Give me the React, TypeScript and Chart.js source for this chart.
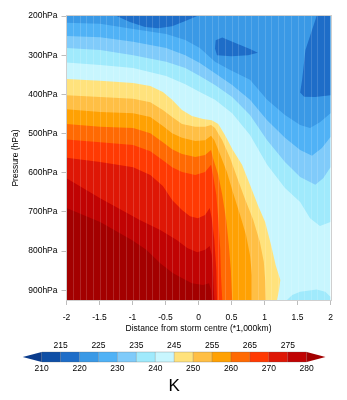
import { useEffect, useRef } from "react";
import { Chart, registerables } from "chart.js";

Chart.register(...registerables);

// ---- axes ----
const distanceTicks = [-2, -1.5, -1, -0.5, 0, 0.5, 1, 1.5, 2];
const pressureTicks = [200, 300, 400, 500, 600, 700, 800, 900];
const distanceRange = [-2, 2];
const pressureRange = [200, 925];

// ---- colour bar ----
const contourLevels = [210, 215, 220, 225, 230, 235, 240, 245, 250, 255, 260, 265, 270, 275, 280];
const bandColors = [
  "#0a3b8c", "#0f4fa6", "#1e6dc8", "#3a99e6", "#50b2f6", "#80cbfa", "#a0eafc", "#c8f6fe",
  "#ffe27c", "#ffbf45", "#ffa103", "#ff6a03", "#ff3a03", "#de1706", "#c00303", "#a30000",
];

// ---- isotherms: [distance (*1000 km), pressure (hPa)] ----
// cold side (colder air above the line)
const iso220Top: number[][] = [[-1.24, 200], [-1.04, 215], [-0.81, 228], [-0.61, 231], [-0.4, 226], [-0.2, 213], [-0.02, 200]];
const iso220Blob: number[][] = [[0.26, 262], [0.36, 255], [0.55, 268], [0.78, 284], [0.9, 294], [0.75, 300], [0.5, 303], [0.28, 300], [0.25, 283]];
const iso220Right: number[][] = [[1.79, 200], [1.72, 236], [1.62, 287], [1.57, 363], [1.54, 395], [1.6, 406], [1.77, 407], [2, 402]];
const iso225: number[][] = [[-2, 217], [-1.49, 220], [-0.99, 233], [-0.49, 246], [-0.2, 261], [0.02, 282], [0.25, 317], [0.48, 338], [0.78, 363], [1.04, 414], [1.31, 453], [1.54, 478], [1.69, 486], [1.84, 471], [2, 448]];
const iso230: number[][] = [[-2, 251], [-1.49, 254], [-0.99, 266], [-0.49, 282], [-0.2, 300], [0.02, 320], [0.25, 346], [0.51, 376], [0.78, 414], [1.04, 466], [1.31, 511], [1.54, 542], [1.72, 557], [1.87, 537], [2, 509]];
const iso235: number[][] = [[-2, 282], [-1.49, 287], [-0.99, 300], [-0.49, 317], [-0.2, 333], [0.02, 353], [0.25, 376], [0.51, 407], [0.78, 453], [1.04, 517], [1.31, 573], [1.54, 611], [1.77, 631], [1.89, 614], [2, 586]];
const iso240: number[][] = [[-2, 319], [-1.49, 325], [-0.99, 333], [-0.49, 353], [-0.2, 374], [0.02, 394], [0.25, 414], [0.51, 448], [0.78, 504], [1.04, 580], [1.31, 639], [1.54, 675], [1.69, 716], [1.84, 736], [2, 726]];
const iso240Surface: number[][] = [[1.34, 925], [1.42, 912], [1.54, 904], [1.79, 898], [1.92, 904], [2, 917], [2, 925]];
// warm side (warmer air below / left of the line)
const iso245: number[][] = [[-2, 361], [-1.49, 365], [-0.99, 371], [-0.73, 379], [-0.54, 394], [-0.4, 414], [-0.25, 440], [-0.1, 455], [0.07, 463], [0.2, 466], [0.3, 476], [0.4, 504], [0.52, 542], [0.66, 580], [0.78, 631], [0.9, 683], [1.01, 726], [1.1, 785], [1.17, 836], [1.24, 874], [1.22, 900], [1.19, 925]];
const iso250: number[][] = [[-2, 402], [-1.49, 407], [-0.99, 411], [-0.73, 420], [-0.54, 440], [-0.4, 458], [-0.25, 476], [-0.05, 483], [0.1, 483], [0.19, 478], [0.25, 486], [0.36, 517], [0.48, 563], [0.6, 619], [0.7, 665], [0.83, 721], [0.93, 777], [0.99, 828], [1.01, 874], [1.02, 925]];
const iso255: number[][] = [[-2, 438], [-1.49, 445], [-0.99, 448], [-0.73, 458], [-0.54, 481], [-0.4, 499], [-0.25, 511], [-0.05, 519], [0.1, 517], [0.19, 506], [0.24, 517], [0.33, 555], [0.43, 598], [0.52, 649], [0.63, 708], [0.72, 759], [0.78, 810], [0.81, 861], [0.81, 925]];
const iso260: number[][] = [[-2, 476], [-1.49, 483], [-0.99, 486], [-0.73, 499], [-0.54, 522], [-0.4, 540], [-0.25, 552], [-0.05, 560], [0.1, 555], [0.19, 542], [0.22, 563], [0.3, 606], [0.36, 657], [0.42, 721], [0.46, 785], [0.49, 849], [0.51, 925]];
const iso265: number[][] = [[-2, 515], [-1.49, 522], [-0.99, 529], [-0.73, 545], [-0.54, 568], [-0.4, 586], [-0.25, 598], [-0.05, 606], [0.1, 598], [0.19, 580], [0.22, 606], [0.27, 657], [0.3, 721], [0.33, 797], [0.34, 861], [0.36, 925]];
const iso270: number[][] = [[-2, 562], [-1.49, 573], [-0.99, 586], [-0.73, 606], [-0.54, 634], [-0.4, 670], [-0.25, 695], [-0.13, 711], [-0.01, 716], [0.1, 708], [0.17, 690], [0.2, 716], [0.24, 772], [0.27, 849], [0.28, 925]];
const iso275: number[][] = [[-2, 614], [-1.49, 665], [-0.89, 721], [-0.58, 746], [-0.33, 772], [-0.17, 792], [-0.02, 803], [0.1, 797], [0.17, 787], [0.2, 810], [0.22, 861], [0.24, 925]];
const iso280: number[][] = [[-2, 690], [-1.49, 726], [-1.01, 772], [-0.79, 797], [-0.58, 831], [-0.39, 856], [-0.28, 866], [-0.1, 882], [0.07, 887], [0.16, 882], [0.19, 900], [0.2, 925]];

type Region = { level: number; pts: number[][]; close: "bottomLeft" | "top" | "topRight" | "none" };

const warmRegions: Region[] = [
  { level: 245, pts: iso245, close: "bottomLeft" },
  { level: 250, pts: iso250, close: "bottomLeft" },
  { level: 255, pts: iso255, close: "bottomLeft" },
  { level: 260, pts: iso260, close: "bottomLeft" },
  { level: 265, pts: iso265, close: "bottomLeft" },
  { level: 270, pts: iso270, close: "bottomLeft" },
  { level: 275, pts: iso275, close: "bottomLeft" },
  { level: 280, pts: iso280, close: "bottomLeft" },
];
const coldRegions: Region[] = [
  { level: 240, pts: iso240, close: "top" },
  { level: 240, pts: iso240Surface, close: "none" },
  { level: 235, pts: iso235, close: "top" },
  { level: 230, pts: iso230, close: "top" },
  { level: 225, pts: iso225, close: "top" },
  { level: 220, pts: iso220Top, close: "none" },
  { level: 220, pts: iso220Blob, close: "none" },
  { level: 220, pts: iso220Right, close: "topRight" },
];

const FONT = "'Liberation Sans', Arial, Helvetica, sans-serif";

// colour of band [lo, lo+5)
const colorAbove = (lo: number) => bandColors[contourLevels.indexOf(lo) + 1];
// colour of band [hi-5, hi)
const colorBelow = (hi: number) => bandColors[contourLevels.indexOf(hi)];

export default function App() {
  const ref = useRef<HTMLCanvasElement>(null);

  useEffect(() => {
    document.body.style.margin = "0";
    const canvas = ref.current!;

    const fieldPlugin = {
      id: "field",
      beforeDatasetsDraw(chart: any) {
        const { ctx, chartArea: a, scales } = chart;
        const xs = scales.x;
        const ys = scales.y;
        const X = (v: number) => xs.getPixelForValue(v);
        const Y = (v: number) => ys.getPixelForValue(v);
        const [x0, x1] = distanceRange;
        const [p0, p1] = pressureRange;

        ctx.save();
        ctx.beginPath();
        ctx.rect(a.left, a.top, a.right - a.left, a.bottom - a.top);
        ctx.clip();

        ctx.fillStyle = colorAbove(240);
        ctx.fillRect(a.left, a.top, a.right - a.left, a.bottom - a.top);

        const fillRegion = (r: Region, color: string) => {
          const pts = r.pts.slice();
          if (r.close === "bottomLeft") pts.push([x0, p1]);
          if (r.close === "top") pts.push([x1, p0], [x0, p0]);
          if (r.close === "topRight") pts.push([x1, p0]);
          ctx.beginPath();
          pts.forEach(([d, p], i) => (i ? ctx.lineTo(X(d), Y(p)) : ctx.moveTo(X(d), Y(p))));
          ctx.closePath();
          ctx.fillStyle = color;
          ctx.fill();
        };
        warmRegions.forEach((r) => fillRegion(r, colorAbove(r.level)));
        coldRegions.forEach((r) => fillRegion(r, colorBelow(r.level)));

        // faint seams between data columns
        ctx.strokeStyle = "rgba(255,255,255,0.15)";
        ctx.lineWidth = 1;
        for (let i = 1; i < 40; i++) {
          const px = Math.round(X(x0 + i * 0.1)) + 0.5;
          ctx.beginPath();
          ctx.moveTo(px, a.top);
          ctx.lineTo(px, a.bottom);
          ctx.stroke();
        }
        ctx.restore();

        ctx.save();
        ctx.strokeStyle = "#cfcfcf";
        ctx.lineWidth = 1;
        ctx.strokeRect(Math.round(a.left) - 0.5, Math.round(a.top) - 0.5, Math.round(a.right - a.left) + 1, Math.round(a.bottom - a.top) + 1);
        ctx.restore();
      },
      afterDraw(chart: any) {
        const ctx = chart.ctx;
        const left = 41.7;
        const right = 306.7;
        const top = 352;
        const bottom = 362;
        const tipL = 22.7;
        const tipR = 325.5;
        const n = contourLevels.length - 1;
        const w = (right - left) / n;
        ctx.save();
        // arrows
        ctx.fillStyle = bandColors[0];
        ctx.beginPath();
        ctx.moveTo(left, top);
        ctx.lineTo(tipL, (top + bottom) / 2);
        ctx.lineTo(left, bottom);
        ctx.closePath();
        ctx.fill();
        ctx.fillStyle = bandColors[bandColors.length - 1];
        ctx.beginPath();
        ctx.moveTo(right, top);
        ctx.lineTo(tipR, (top + bottom) / 2);
        ctx.lineTo(right, bottom);
        ctx.closePath();
        ctx.fill();
        for (let i = 0; i < n; i++) {
          ctx.fillStyle = bandColors[i + 1];
          ctx.fillRect(left + i * w, top, w, bottom - top);
        }
        ctx.strokeStyle = "rgba(90,90,90,0.35)";
        ctx.lineWidth = 0.8;
        for (let i = 0; i <= n; i++) {
          ctx.beginPath();
          ctx.moveTo(left + i * w, top);
          ctx.lineTo(left + i * w, bottom);
          ctx.stroke();
        }
        ctx.beginPath();
        ctx.moveTo(left, top);
        ctx.lineTo(right, top);
        ctx.moveTo(left, bottom);
        ctx.lineTo(right, bottom);
        ctx.stroke();

        ctx.fillStyle = "#000";
        ctx.font = `8.5px ${FONT}`;
        ctx.textAlign = "center";
        ctx.textBaseline = "middle";
        contourLevels.forEach((lv, i) => {
          const cx = left + i * w;
          if (i % 2 === 1) ctx.fillText(String(lv), cx, 345.5);
          else ctx.fillText(String(lv), cx, 369);
        });
        ctx.font = `17px ${FONT}`;
        ctx.fillText("K", (left + right) / 2, 386);
        ctx.restore();
      },
    };

    const chart = new Chart(canvas, {
      type: "scatter",
      data: { datasets: [] },
      plugins: [fieldPlugin],
      options: {
        responsive: false,
        animation: false,
        events: [],
        layout: { padding: { left: 0, right: 16.5, top: 16, bottom: 62 } },
        plugins: { legend: { display: false }, tooltip: { enabled: false } },
        scales: {
          x: {
            type: "linear",
            min: distanceRange[0],
            max: distanceRange[1],
            afterBuildTicks: (s: any) => {
              s.ticks = distanceTicks.map((v) => ({ value: v }));
            },
            afterFit: (s: any) => {
              s.height = 38;
            },
            grid: { drawOnChartArea: false, drawTicks: true, tickLength: 5, color: "#bdbdbd" },
            border: { display: false },
            ticks: {
              color: "#000",
              padding: 8,
              maxRotation: 0,
              autoSkip: false,
              font: { family: FONT, size: 8.5 },
              callback: (v: any) => String(v),
            },
            title: {
              display: true,
              text: "Distance from storm centre (*1,000km)",
              color: "#000",
              font: { family: FONT, size: 8.5 },
              padding: { top: 0, bottom: 4 },
            },
          },
          y: {
            type: "linear",
            reverse: true,
            min: pressureRange[0],
            max: pressureRange[1],
            afterBuildTicks: (s: any) => {
              s.ticks = pressureTicks.map((v) => ({ value: v }));
            },
            afterFit: (s: any) => {
              s.width = 66.5;
            },
            grid: { drawOnChartArea: false, drawTicks: true, tickLength: 5, color: "#bdbdbd" },
            border: { display: false },
            ticks: {
              color: "#000",
              padding: 4,
              autoSkip: false,
              font: { family: FONT, size: 8.5 },
              callback: (v: any) => `${v}hPa`,
            },
            title: {
              display: true,
              text: "Pressure (hPa)",
              color: "#000",
              font: { family: FONT, size: 8.5 },
              padding: { top: 11, bottom: 0 },
            },
          },
        },
      },
    } as any);

    return () => chart.destroy();
  }, []);

  return (
    <div style={{ position: "absolute", left: 0, top: 0, width: 347, height: 400, background: "#fff" }}>
      <canvas ref={ref} width={347} height={400} style={{ display: "block" }} />
    </div>
  );
}
